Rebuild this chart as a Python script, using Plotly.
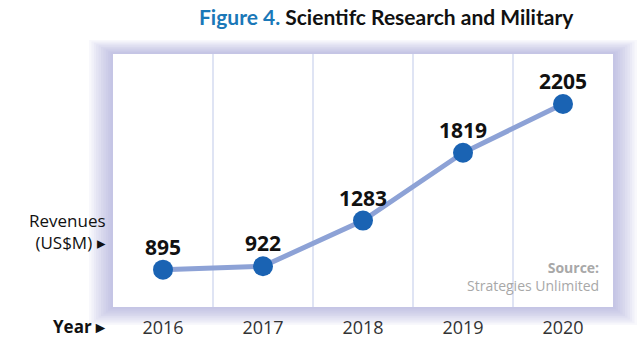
import plotly.graph_objects as go

years = ["2016", "2017", "2018", "2019", "2020"]
revenues = [895, 922, 1283, 1819, 2205]

PW, PH = 500, 253  # plot area size in px

fig = go.Figure()
fig.add_trace(go.Scatter(
    x=years, y=revenues, mode="lines+markers",
    line=dict(color="#8da2d6", width=5),
    marker=dict(color="#1a63b3", size=20),
    cliponaxis=False, hoverinfo="skip",
))

shapes = []
# soft lavender shadow around plot box (outer -> inner)
n = 10
for i in range(n):
    f = (n - i) / n
    l, r, t, b = 24 * f, 24 * f, 14 * f, 18 * f
    shapes.append(dict(type="rect", xref="paper", yref="paper", layer="below",
                       x0=-l / PW, x1=1 + r / PW, y0=-b / PH, y1=1 + t / PH,
                       fillcolor="rgba(120,120,200,0.055)", line=dict(width=0)))
shapes.append(dict(type="rect", xref="paper", yref="paper", layer="below",
                   x0=0, x1=1, y0=0, y1=1, fillcolor="white", line=dict(width=0)))
for k in range(len(years) - 1):
    shapes.append(dict(type="line", xref="x", yref="paper", layer="below",
                       x0=k + 0.5, x1=k + 0.5, y0=0, y1=1,
                       line=dict(color="#dfe4f4", width=2)))

annotations = [
    dict(x=i, y=v, xref="x", yref="y", text=f"<b>{v}</b>", showarrow=False,
         yanchor="middle", yshift=23,
         font=dict(family="Open Sans", size=21, color="#111111"))
    for i, v in enumerate(revenues)
]
annotations += [
    dict(xref="paper", yref="paper", x=(386 - 113) / PW, y=1 + (54 - 17) / PH,
         xanchor="center", yanchor="middle",
         text="<b><span style='color:#1a78b8'>Figure 4.</span> Scientifc Research and Military</b>",
         font=dict(family="Lato", size=21, color="#111111"), showarrow=False),
    dict(xref="paper", yref="paper", x=-5 / PW, y=(307 - 232) / PH,
         xanchor="right", yanchor="middle",
         text="Revenues<br>(US$M) ▸", align="right",
         font=dict(family="Open Sans", size=17, color="#111111"), showarrow=False),
    dict(xref="paper", yref="paper", x=-5 / PW, y=-(326 - 307) / PH,
         xanchor="right", yanchor="middle",
         text="<b>Year ▸</b>",
         font=dict(family="Open Sans", size=17, color="#111111"), showarrow=False),
    dict(xref="paper", yref="paper", x=1 - 12 / PW, y=10 / PH,
         xanchor="right", yanchor="bottom",
         text="<b>Source:</b><br>Strategies Unlimited", align="right",
         font=dict(family="Open Sans", size=14, color="#a8a8a8"), showarrow=False),
]

fig.update_layout(
    width=640, height=344,
    margin=dict(l=113, r=27, t=54, b=37, autoexpand=False),
    paper_bgcolor="white", plot_bgcolor="rgba(0,0,0,0)",
    showlegend=False,
    shapes=shapes, annotations=annotations,
    xaxis=dict(type="category", range=[-0.5, 4.5], showgrid=False, zeroline=False,
               showline=False, ticks="", ticklabelstandoff=8, automargin=False,
               tickfont=dict(family="Open Sans", size=18, color="#333333"),
               fixedrange=True),
    yaxis=dict(range=[600, 2600], showgrid=False, zeroline=False, showline=False,
               showticklabels=False, automargin=False, fixedrange=True),
)

fig.write_html("out.html")
